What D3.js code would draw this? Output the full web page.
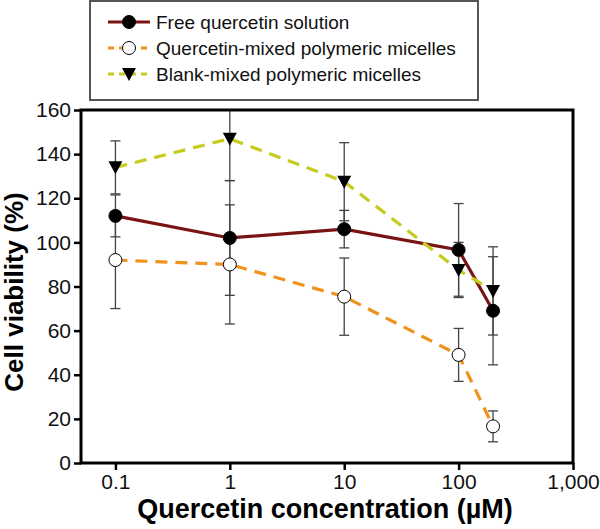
<!DOCTYPE html>
<html>
<head>
<meta charset="utf-8">
<script src="https://cdn.jsdelivr.net/npm/d3@7"></script>
<style>
  body { margin: 0; background: #fff; }
  text { font-family: "Liberation Sans", Arial, sans-serif; }
</style>
</head>
<body>
<svg id="chart" width="600" height="529"></svg>
<script>
'use strict';

// concentrations (µM)
const conc = [0.1, 1, 10, 100, 200];
const xTicks = [0.1, 1, 10, 100, 1000];
const yTicks = [0, 20, 40, 60, 80, 100, 120, 140, 160];

const seriesNames = ['Free quercetin solution', 'Quercetin-mixed polymeric micelles', 'Blank-mixed polymeric micelles'];
const freeVals = [112, 102, 106, 96.6, 69];
const freeErr = [9.5, 26, 8.5, 21, 24.5];
const qmVals = [92, 90, 75.4, 49, 16.6];
const qmErr = [22, 27, 17.5, 12, 7];
const blankVals = [134, 147, 127.5, 87.5, 78];
const blankErr = [12, 19, 17.7, 12.5, 20];

const m = {left: 81, right: 573, top: 110, bottom: 463};

const svg = d3.select('#chart');

const x = d3.scaleLog().domain([0.05, 1000]).range([m.left, m.right]);
const y = d3.scaleLinear().domain([0, 160]).range([m.bottom, m.top]);

let series = [
    {name: seriesNames[0], vals: freeVals, err: freeErr, color: '#7a1414', dash: null, marker: 'filled'},
    {name: seriesNames[1], vals: qmVals, err: qmErr, color: '#f0921e', dash: '12,8', marker: 'open'},
    {name: seriesNames[2], vals: blankVals, err: blankErr, color: '#c5cc1e', dash: '12,8', marker: 'tri'}
];

// clip for error bars going past the top
svg.append('clipPath').attr('id', 'plotClip')
    .append('rect').attr('x', m.left).attr('y', m.top)
    .attr('width', m.right - m.left).attr('height', m.bottom - m.top);

// error bars
let errG = svg.append('g').attr('clip-path', 'url(#plotClip)');
series.forEach(s => {
    conc.forEach((c, i) => {
        const cx = x(c);
        const hi = y(s.vals[i] + s.err[i]);
        const lo = y(s.vals[i] - s.err[i]);
        errG.append('line').attr('x1', cx).attr('x2', cx).attr('y1', hi).attr('y2', lo)
            .attr('stroke', '#444').attr('stroke-width', 1.3);
        [hi, lo].forEach(yy => {
            errG.append('line').attr('x1', cx - 5).attr('x2', cx + 5).attr('y1', yy).attr('y2', yy)
                .attr('stroke', '#444').attr('stroke-width', 1.3);
        });
    });
});

// lines
const line = d3.line().x(d => x(d[0])).y(d => y(d[1]));
series.forEach(s => {
    svg.append('path')
        .datum(conc.map((c, i) => [c, s.vals[i]]))
        .attr('d', line)
        .attr('fill', 'none')
        .attr('stroke', s.color)
        .attr('stroke-width', 3.2)
        .attr('stroke-dasharray', s.dash);
});

let drawMarker = (g, kind, cx, cy) => {
    if (kind === 'tri') {
        g.append('path')
            .attr('d', `M${cx - 7},${cy - 6} L${cx + 7},${cy - 6} L${cx},${cy + 7} Z`)
            .attr('fill', '#000');
    } else {
        g.append('circle').attr('cx', cx).attr('cy', cy).attr('r', 6.5)
            .attr('fill', kind === 'filled' ? '#000' : '#fff')
            .attr('stroke', '#000').attr('stroke-width', 1);
    }
};

// markers
series.forEach(s => {
    conc.forEach((c, i) => drawMarker(svg, s.marker, x(c), y(s.vals[i])));
});

// frame
svg.append('rect')
    .attr('x', m.left).attr('y', m.top)
    .attr('width', m.right - m.left).attr('height', m.bottom - m.top)
    .attr('fill', 'none').attr('stroke', '#000').attr('stroke-width', 3);

// axes
const yAxis = svg.append('g').attr('transform', `translate(${m.left},0)`)
    .call(d3.axisLeft(y).tickValues(yTicks).tickSize(7).tickPadding(3));
const xAxis = svg.append('g').attr('transform', `translate(0,${m.bottom})`)
    .call(d3.axisBottom(x).tickValues(xTicks).tickSize(7).tickPadding(4)
        .tickFormat(d => d3.format(',')(d)));
[yAxis, xAxis].forEach(a => {
    a.select('.domain').remove();
    a.selectAll('line').attr('stroke', '#000').attr('stroke-width', 2.5);
    a.selectAll('text').attr('font-size', 21).attr('fill', '#111')
        .style('font-family', '"Liberation Sans", Arial, sans-serif');
});

// axis titles
svg.append('text')
    .attr('x', 325).attr('y', 518)
    .attr('text-anchor', 'middle')
    .attr('font-size', 27).attr('font-weight', 'bold')
    .text('Quercetin concentration (µM)');
svg.append('text')
    .attr('transform', `translate(23,292) rotate(-90)`)
    .attr('text-anchor', 'middle')
    .attr('font-size', 26).attr('font-weight', 'bold')
    .text('Cell viability (%)');

// legend
const leg = svg.append('g');
leg.append('rect').attr('x', 90).attr('y', 1).attr('width', 388).attr('height', 99)
    .attr('fill', '#fff').attr('stroke', '#555').attr('stroke-width', 2);
series.forEach((s, i) => {
    const ly = 22 + i * 26;
    leg.append('line').attr('x1', 108).attr('x2', 150).attr('y1', ly).attr('y2', ly)
        .attr('stroke', s.color).attr('stroke-width', 3.2)
        .attr('stroke-dasharray', s.dash ? '6,5' : null);
    drawMarker(leg, s.marker, 129, ly);
    leg.append('text').attr('x', 156).attr('y', ly + 7)
        .attr('font-size', 19).attr('fill', '#111').text(s.name);
});
</script>
</body>
</html>
